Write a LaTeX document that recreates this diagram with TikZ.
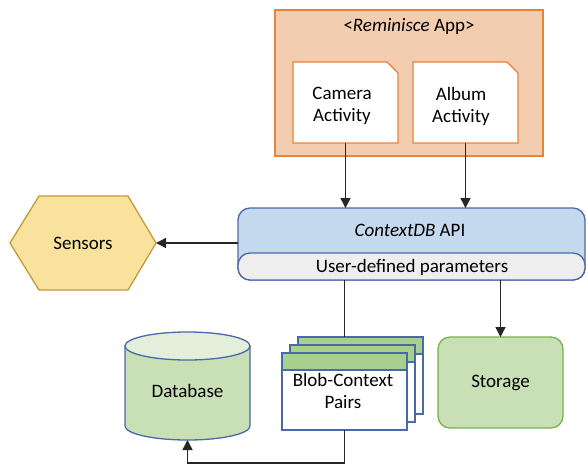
\documentclass[tikz,border=0pt]{standalone}
\usepackage{fontspec}
\setmainfont{Carlito}
\usetikzlibrary{arrows.meta}

\definecolor{appfill}{HTML}{F3CDAF}
\definecolor{appline}{HTML}{E8833A}
\definecolor{apifill}{HTML}{C4D8EE}
\definecolor{apiline}{HTML}{4A69A8}
\definecolor{parfill}{HTML}{EEEEEE}
\definecolor{senfill}{HTML}{F9E39C}
\definecolor{senline}{HTML}{C49A3A}
\definecolor{dbfill}{HTML}{C9E0B6}
\definecolor{dbtop}{HTML}{E3EFDA}
\definecolor{hdrfill}{HTML}{A8CF8E}
\definecolor{stline}{HTML}{79B052}

\def \globalscale {1.000000}

\tikzset{
  box/.style={minimum width=#1, inner sep=0pt},
  wire/.style={draw=black!85, line width=1.4pt},
  link/.style={wire, -{Triangle[length=10pt,width=10pt]}},
}

\begin{document}
\begin{tikzpicture}[y=1pt, x=1pt, yscale=-\globalscale, xscale=\globalscale, inner sep=0pt, outer sep=0pt, font=\fontsize{19}{22}\selectfont]
\useasboundingbox (0,0) rectangle (586,466);

% app frame with its two activity cards
\path[draw=appline,fill=appfill,line width=1.3pt] (275,10) rectangle (543,156);
\node (apptitle) at (409,26) {<\textit{Reminisce} App>};

\path[draw=appline,fill=white,line width=1.3pt] (293,62) -- (387,62) -- (398,73) -- (398,143) -- (293,143) -- cycle;
\node[box=105, minimum height=81, align=center] (camera) at (345.5,102.5) {};
\node[align=center] (cameraname) at (342,106) {Camera\\Activity};

\path[draw=appline,fill=white,line width=1.3pt] (413,62) -- (507,62) -- (518,73) -- (518,143) -- (413,143) -- cycle;
\node[box=105, minimum height=81, align=center] (album) at (465.5,102.5) {};
\node[align=center] (albumname) at (461,106) {Album\\Activity};

% api block
\path[draw=apiline,fill=apifill,line width=1.3pt,rounded corners=12] (238,208) rectangle (585,280);
\path[draw=apiline,fill=parfill,line width=1.3pt,rounded corners=12] (238,253) rectangle (585,280);
\node[box=347, minimum height=72] (api) at (411.5,244) {};
\node (apiname) at (410,230) {\textit{ContextDB} API};
\node (params) at (412,267) {User-defined parameters};

% sensors
\path[draw=senline,fill=senfill,line width=1.3pt] (10,243) -- (39,196) -- (128,196) -- (156,243) -- (128,290) -- (39,290) -- cycle;
\node[box=146, minimum height=94] (sensors) at (83,243) {Sensors};

% database
\path[draw=apiline,fill=dbfill,line width=1.3pt] (125,346) -- (125,426) arc (180:0:62.5 and 14) -- (250,346) -- cycle;
\path[draw=apiline,fill=dbtop,line width=1.3pt] (187.5,346) ellipse (62.5 and 14);
\node[box=125, minimum height=108] (db) at (187.5,386) {};
\node (dbname) at (187.5,391) {Database};

% stacked blob cards
\foreach \i/\o in {3/16,2/8,1/0} {
  \path[draw=apiline,fill=white,line width=1.3pt] (282+\o,353-\o) rectangle (407+\o,430-\o);
  \path[draw=apiline,fill=hdrfill,line width=1.3pt] (282+\o,353-\o) rectangle (407+\o,370-\o);
  \node[box=125, minimum height=77] (blob\i) at (344.5+\o,391.5-\o) {};
}
\node[align=center] (blobname) at (343,391) {Blob-Context\\Pairs};

% storage
\node[box=125, minimum height=91, draw=stline, fill=dbfill, line width=1.3pt, rounded corners=12] (storage) at (500.5,382.5) {Storage};

% connectors
\draw[link] (camera.south) -- (camera.south |- api.north);
\draw[link] (album.south) -- (album.south |- api.north);
\draw[link] (api.west |- sensors.east) -- (sensors.east);
\draw[wire] (api.south -| blob1.north) -- (blob3.north -| blob1.north);
\draw[link] (api.south -| storage.north) -- (storage.north);
\draw[link] (blob1.south) -- ++(0,33) -| (db.south);

\end{tikzpicture}
\end{document}
